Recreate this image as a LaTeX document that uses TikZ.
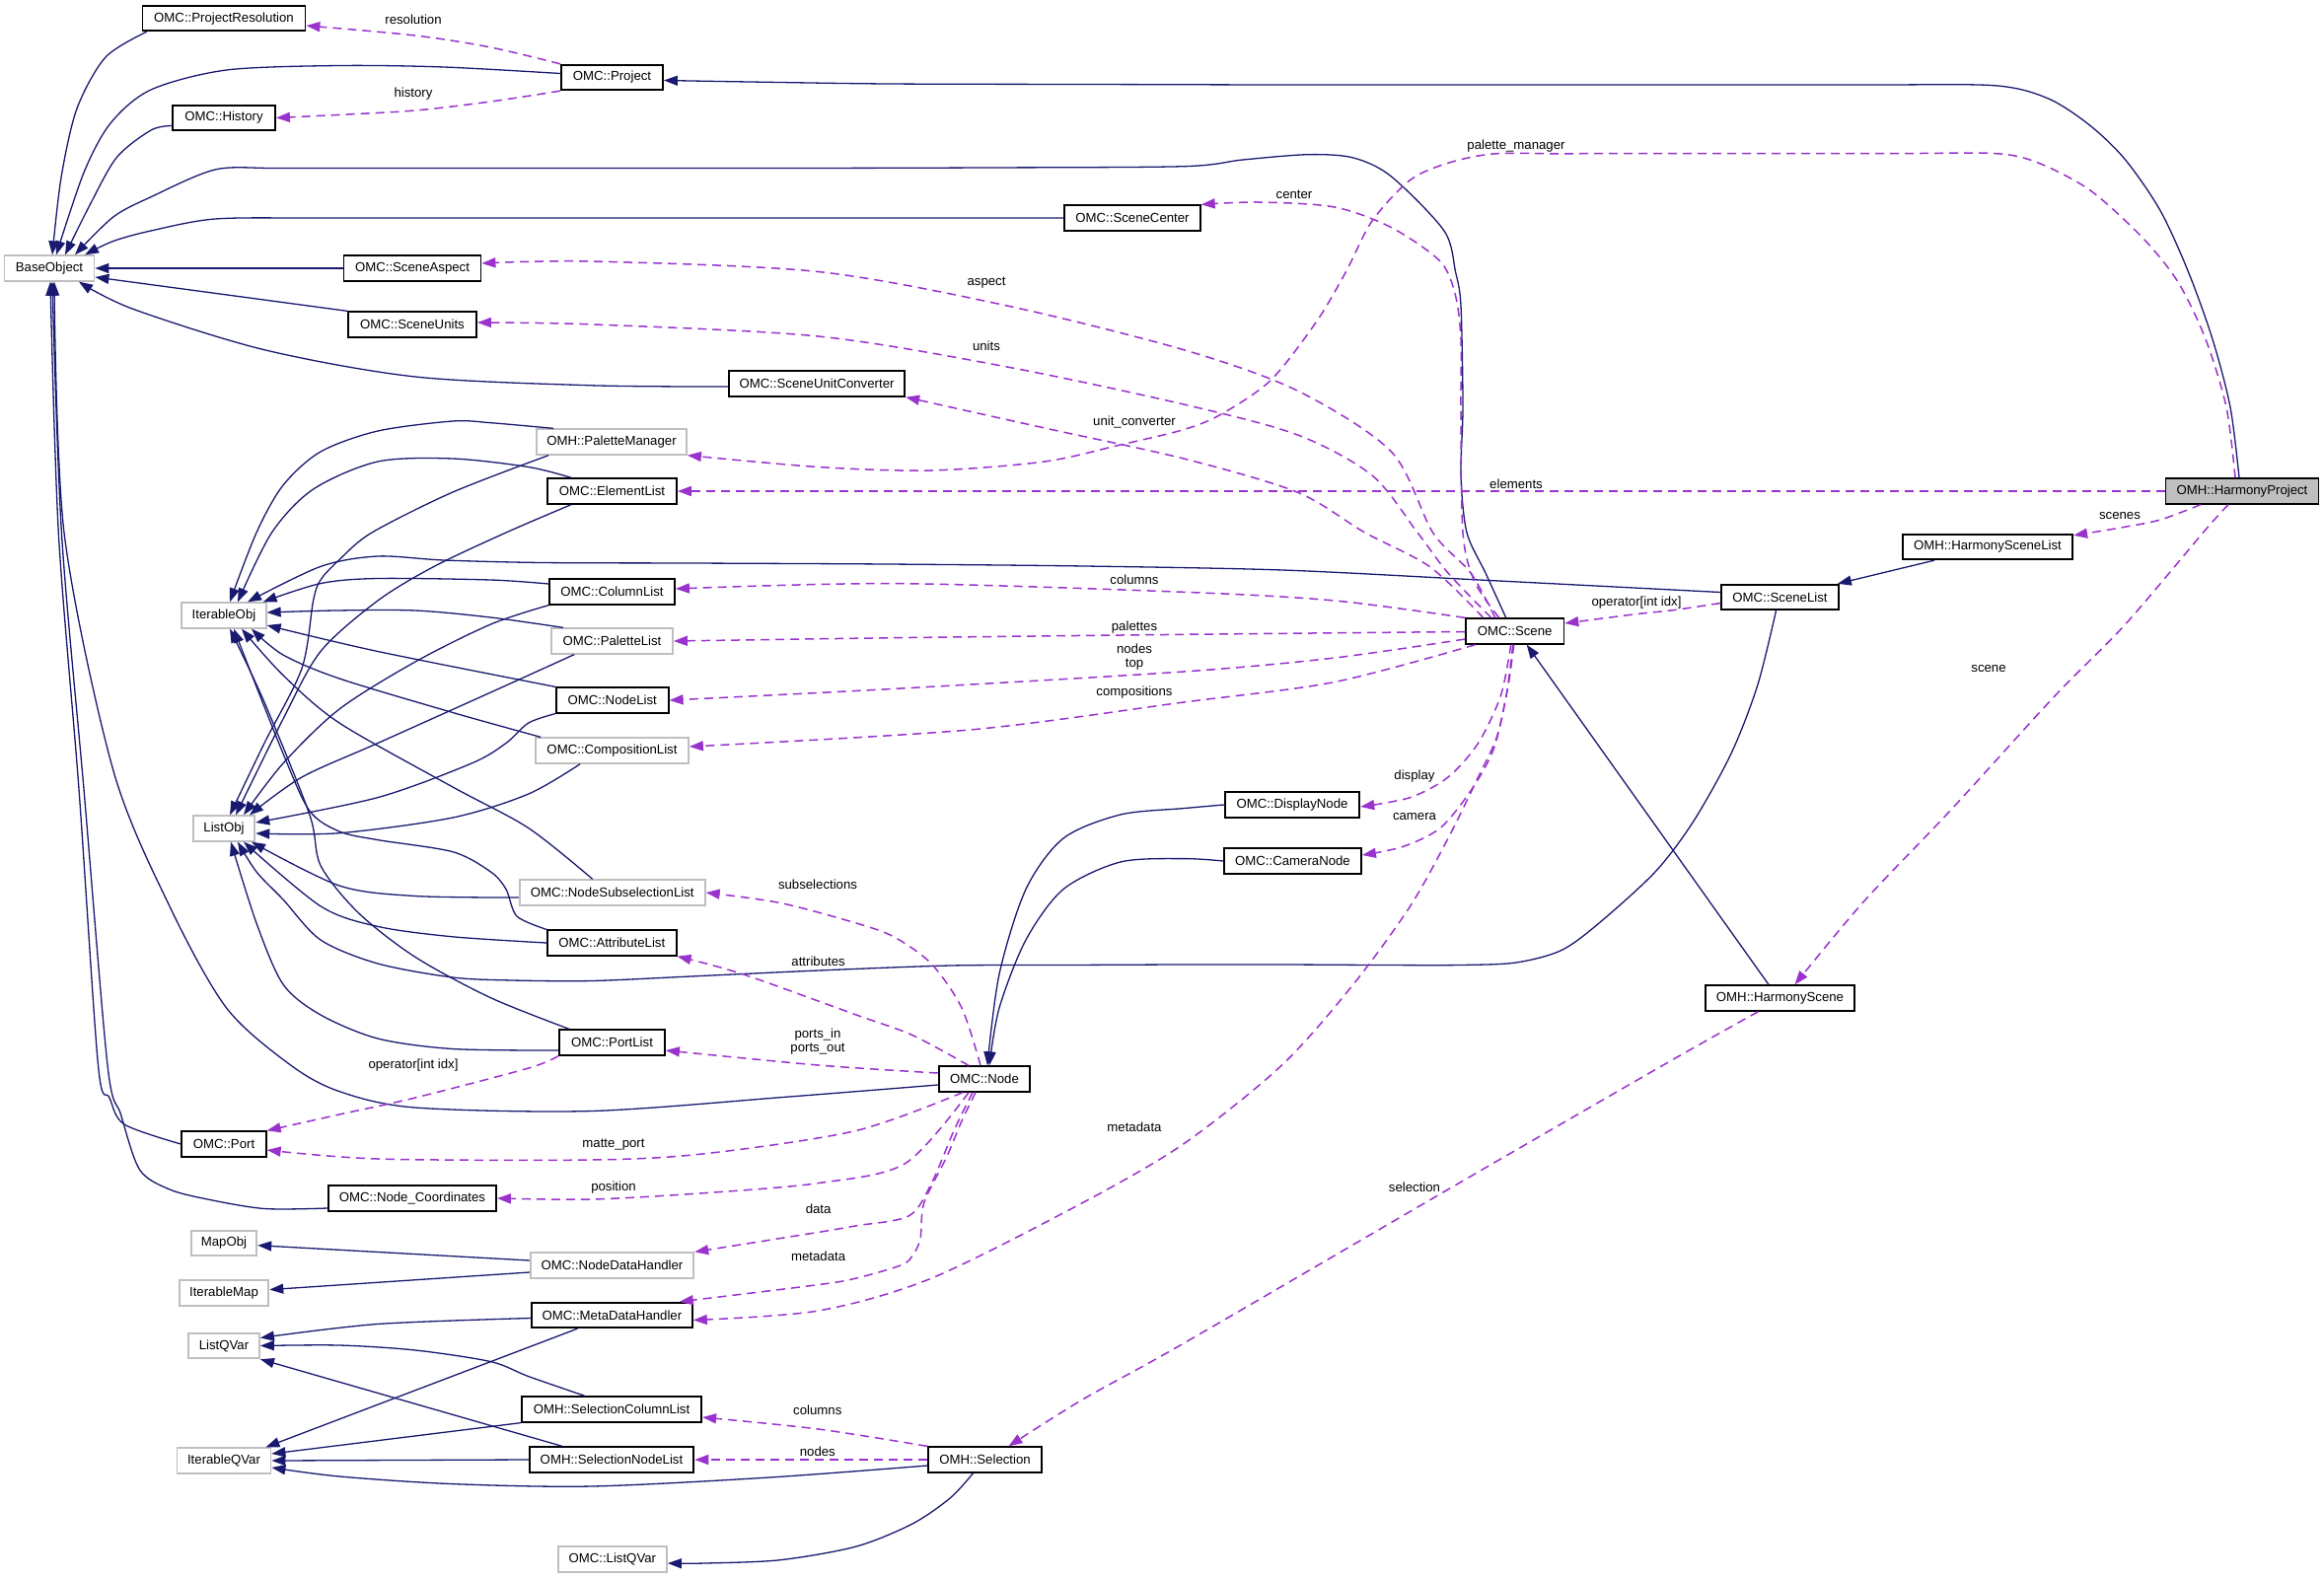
\documentclass[tikz,border=0pt]{standalone}
\usepackage{fontspec}
\setmainfont{Liberation Sans}
\usetikzlibrary{arrows.meta}
\definecolor{edgeblue}{HTML}{191970}
\definecolor{deppurple}{HTML}{9A32CD}
\definecolor{boxgray}{HTML}{BFBFBF}
\begin{document}
\begin{tikzpicture}[x=0.5pt,y=-0.5pt,
  font=\fontsize{6.6}{7.2}\selectfont,
  cls/.style={draw=black, line width=0.9pt, rectangle, inner sep=0pt, minimum height=12.75pt, fill=white},
  ext/.style={cls, draw=boxgray},
  inh/.style={draw=edgeblue, line width=0.65pt, -{Triangle[length=7pt,width=5pt]}},
  dep/.style={draw=deppurple, line width=0.75pt, dash pattern=on 4.5pt off 3pt, -{Triangle[length=7pt,width=5pt]}},
  lbl/.style={inner sep=0pt, align=center, font=\fontsize{6.6}{7}\selectfont}]
\useasboundingbox (0,0) rectangle (2356,1601);
\fill[white] (0,0) rectangle (2356,1601);

% ---------- nodes ----------
\node[cls, minimum width=82.5pt] (ProjRes) at (227,18.6) {OMC::ProjectResolution};
\node[cls, minimum width=51.5pt] (Project) at (620.5,78.5) {OMC::Project};
\node[cls, minimum width=52pt] (History) at (227,119.5) {OMC::History};
\node[ext, minimum width=45.5pt] (BaseObject) at (50,272) {BaseObject};
\node[cls, minimum width=69.5pt] (SceneAspect) at (418,272) {OMC::SceneAspect};
\node[cls, minimum width=65pt] (SceneUnits) at (418,329) {OMC::SceneUnits};
\node[cls, minimum width=68.75pt] (SceneCenter) at (1148,221) {OMC::SceneCenter};
\node[cls, minimum width=89.25pt] (SceneUnitConverter) at (828,389) {OMC::SceneUnitConverter};
\node[ext, minimum width=76pt] (PaletteManager) at (620,448) {OMH::PaletteManager};
\node[cls, minimum width=65.5pt] (ElementList) at (620.5,498) {OMC::ElementList};
\node[cls, minimum width=77.5pt, fill=boxgray] (HarmonyProject) at (2273,498) {OMH::HarmonyProject};
\node[ext, minimum width=42.75pt] (IterableObj) at (227,624) {IterableObj};
\node[ext, minimum width=31.35pt] (ListObj) at (227,840) {ListObj};
\node[cls, minimum width=63.5pt] (ColumnList) at (620.5,600) {OMC::ColumnList};
\node[ext, minimum width=61.5pt] (PaletteList) at (620.5,650) {OMC::PaletteList};
\node[cls, minimum width=57pt] (NodeList) at (620.7,710) {OMC::NodeList};
\node[ext, minimum width=77.5pt] (CompositionList) at (620.5,761) {OMC::CompositionList};
\node[ext, minimum width=94pt] (NodeSubselectionList) at (620.7,905) {OMC::NodeSubselectionList};
\node[cls, minimum width=65.35pt] (AttributeList) at (620.3,956) {OMC::AttributeList};
\node[cls, minimum width=53.5pt] (PortList) at (620.5,1057) {OMC::PortList};
\node[cls, minimum width=49.7pt] (Scene) at (1535.7,640) {OMC::Scene};
\node[cls, minimum width=59.5pt] (SceneList) at (1804.5,605.5) {OMC::SceneList};
\node[cls, minimum width=86.2pt] (HarmonySceneList) at (2015,554.5) {OMH::HarmonySceneList};
\node[cls, minimum width=75.5pt] (HarmonyScene) at (1804.5,1012) {OMH::HarmonyScene};
\node[cls, minimum width=68.35pt] (DisplayNode) at (1310,816) {OMC::DisplayNode};
\node[cls, minimum width=69.5pt] (CameraNode) at (1310.5,873) {OMC::CameraNode};
\node[cls, minimum width=46.35pt] (Node) at (998,1094) {OMC::Node};
\node[cls, minimum width=42.75pt] (Port) at (227,1160) {OMC::Port};
\node[cls, minimum width=85pt] (NodeCoordinates) at (418,1215) {OMC::Node\_Coordinates};
\node[ext, minimum width=33.3pt] (MapObj) at (227,1260.5) {MapObj};
\node[ext, minimum width=45.35pt] (IterableMap) at (227,1311) {IterableMap};
\node[ext, minimum width=36pt] (ListQVar) at (227,1364.5) {ListQVar};
\node[ext, minimum width=47.5pt] (IterableQVar) at (227,1481) {IterableQVar};
\node[ext, minimum width=82.8pt] (NodeDataHandler) at (620.5,1283) {OMC::NodeDataHandler};
\node[cls, minimum width=81.5pt] (MetaDataHandler) at (620.4,1333.5) {OMC::MetaDataHandler};
\node[cls, minimum width=91.2pt] (SelectionColumnList) at (620,1429) {OMH::SelectionColumnList};
\node[cls, minimum width=83.35pt] (SelectionNodeList) at (620,1480) {OMH::SelectionNodeList};
\node[ext, minimum width=55.2pt] (OMCListQVar) at (620.8,1581) {OMC::ListQVar};
\node[cls, minimum width=57.5pt] (Selection) at (998.5,1480) {OMH::Selection};

% ---------- inheritance edges ----------
% to BaseObject
\draw[inh] plot[smooth] coordinates {([xshift=2.5pt]ProjRes.south west) (107,58) (78,110) (62,180) ([xshift=1.5pt]BaseObject.north)};
\draw[inh] plot[smooth] coordinates {([yshift=2pt]Project.west) (450,68) (344,66.5) (229.6,71) (153,91) (112,125) (85,175) ([xshift=3.5pt]BaseObject.north)};
\draw[inh] plot[smooth] coordinates {([yshift=-4pt]History.west) (153,132) (118,160) (90,210) ([xshift=8pt]BaseObject.north)};
\draw[inh] plot[smooth] coordinates {([xshift=-4.5pt]Scene.north) (1506,581) (1487,540) (1481,482) (1483,413) (1481,310) (1475.5,275.5) (1464,234) (1410.5,179) (1372,160) (1326,156.7) (1260,162) (1200,168.7) (1000,170) (800,170.5) (600,170.5) (400,170.5) (280,170.5) (218,172) (153,199.7) (114.8,220) ([xshift=13pt]BaseObject.north)};
\draw[inh] plot[smooth] coordinates {(SceneCenter.west) (900,221) (700,221) (500,221) (320,221) (218,222) (153,234) (114.8,244.5) ([xshift=18pt]BaseObject.north)};
\draw[inh] (SceneAspect.west) -- (BaseObject.east);
\draw[inh] (SceneUnits.north west) -- ([yshift=-4.5pt]BaseObject.east);
\draw[inh] plot[smooth] coordinates {([yshift=-1.5pt]SceneUnitConverter.west) (600,390.8) (421,382) (268,354.7) (134,313) ([xshift=15pt]BaseObject.south)};
\draw[inh] plot[smooth] coordinates {(Port.west) (126,1140) (111,1113) (99.5,1080) (80,800) (59.3,540) ([xshift=0.5pt]BaseObject.south)};
\draw[inh] plot[smooth] coordinates {([yshift=-5pt]NodeCoordinates.west) (268,1225.5) (210.5,1216) (172,1206) (141.6,1186) (122.5,1130) (109,1080) (85,800) (62.4,540) ([xshift=1.5pt]BaseObject.south)};
\draw[inh] plot[smooth] coordinates {([yshift=-3pt]Node.west) (800,1112) (600,1126.5) (421,1123) (344,1106.6) (294.7,1080) (229.6,1022) (172,919) (114.8,781) (65,540) ([xshift=2.5pt]BaseObject.south)};

% to IterableObj
\draw[inh] plot[smooth] coordinates {([xshift=9pt]PaletteManager.north west) (497.5,428.7) (459,427) (383,437) (325,458) (287,492) (260,540) ([xshift=3pt]IterableObj.north)};
\draw[inh] plot[smooth] coordinates {([xshift=12.5pt]ElementList.north west) (535.8,473.5) (459,465) (383,468) (317.6,496) (275.5,540) ([xshift=7pt]IterableObj.north)};
\draw[inh] plot[smooth] coordinates {([yshift=2.5pt]SceneList.west) (1500,588) (1300,578) (1100,574) (900,572) (700,571) (550,570.5) (450,568) (383,564) (325,574.4) ([xshift=12pt]IterableObj.north)};
\draw[inh] plot[smooth] coordinates {([yshift=4pt]ColumnList.west) (497.5,588) (383,586.5) (325,591.6) ([xshift=-2pt]IterableObj.north east)};
\draw[inh] plot[smooth] coordinates {([xshift=6.5pt]PaletteList.north west) (497.5,626) (421,619) (340,619) ([yshift=1.5pt]IterableObj.east)};
\draw[inh] plot[smooth] coordinates {(NodeList.north west) (383,660.5) ([yshift=-5pt]IterableObj.east)};
\draw[inh] plot[smooth] coordinates {([xshift=3pt]CompositionList.north west) (459,722.5) (344,688) (287,664) ([xshift=14pt]IterableObj.south)};
\draw[inh] plot[smooth] coordinates {([xshift=-10pt]NodeSubselectionList.north) (535.8,839.6) (459,798) (344,733) (287,684.6) ([xshift=9pt]IterableObj.south)};
\draw[inh] plot[smooth] coordinates {(AttributeList.north west) (524,929) (513,901.6) (497.5,884) (459,863.7) (383,851.6) (344,843) (313.8,822) (287,764) ([xshift=5pt]IterableObj.south)};
\draw[inh] plot[smooth] coordinates {([xshift=5.5pt]PortList.north west) (497.5,1011.7) (421,970.4) (363.5,925.7) (325,877.5) (313.8,825.8) (268,712) ([xshift=3pt]IterableObj.south)};

% to ListObj
\draw[inh] plot[smooth] coordinates {([xshift=6.5pt]PaletteManager.south west) (459,499) (377,540) (344,567.5) (325,588) (317.6,609) (306,677.7) (268,753.5) ([xshift=3pt]ListObj.north)};
\draw[inh] plot[smooth] coordinates {([xshift=12.5pt]ElementList.south west) (513,540) (440,574.4) (383,609) (325,660.5) (287,729) ([xshift=6pt]ListObj.north)};
\draw[inh] plot[smooth] coordinates {(ColumnList.south west) (497.5,633) (421,671) (344,719) (287,774) ([xshift=10pt]ListObj.north)};
\draw[inh] plot[smooth] coordinates {([xshift=12pt]PaletteList.south west) (497.5,702) (383,753.5) (306,788) ([xshift=13pt]ListObj.north)};
\draw[inh] plot[smooth] coordinates {(NodeList.south west) (535.8,733) (513,753.5) (478,774) (383,808.6) ([yshift=3pt]ListObj.east)};
\draw[inh] plot[smooth] coordinates {([xshift=23pt]CompositionList.south west) (535.8,805) (459,829) (344,844.7) ([yshift=-2.5pt]ListObj.east)};
\draw[inh] plot[smooth] coordinates {([yshift=-2.5pt]NodeSubselectionList.west) (421,908.5) (344,898) ([xshift=14pt]ListObj.south)};
\draw[inh] plot[smooth] coordinates {(AttributeList.west) (459,949.8) (383,939.4) (325,918.8) ([xshift=10pt]ListObj.south)};
\draw[inh] plot[smooth] coordinates {([xshift=-2pt]SceneList.south) (1781.7,695) (1755,764) (1716.6,833) (1678,884) (1621,936) (1582.7,963.6) (1536.7,976) (1480,978.5) (1400,978.5) (1300,978) (1200,978) (1080,978.5) (963.5,979) (829.6,984) (700,990) (600,994.5) (520,994) (459,991) (383,977) (325,953) (287,912) (260,884) ([xshift=7pt]ListObj.south)};
\draw[inh] plot[smooth] coordinates {([yshift=-4pt]PortList.west) (459,1063.5) (383,1053) (325,1029) (287,998) (260,936) ([xshift=3.5pt]ListObj.south)};

% other inheritance
\draw[inh] plot[smooth] coordinates {([xshift=-1.5pt]HarmonyProject.north) (2261,413) (2243,344) (2218.4,275.5) (2190,213.5) (2154.6,162) (2119,127.4) (2076.6,100) (2023,86.8) (1900,86) (1700,86) (1500,86) (1300,86) (1100,85.5) (900,85) (760,83) ([yshift=-1.5pt]Project.east)};
\draw[inh] ([xshift=-27pt]HarmonySceneList.south) -- ([xshift=-1pt]SceneList.north east);
\draw[inh] ([xshift=-5.75pt]HarmonyScene.north) -- ([xshift=6pt]Scene.south);
\draw[inh] plot[smooth] coordinates {(DisplayNode.west) (1200,819.6) (1135.8,826) (1078,850) (1040,901.6) (1013,987.7) ([xshift=1.5pt]Node.north)};
\draw[inh] plot[smooth] coordinates {(CameraNode.west) (1200,870.6) (1135.8,874) (1078,901.6) (1040,953) (1013,1022) ([xshift=2.5pt]Node.north)};
\draw[inh] ([yshift=2.5pt]NodeDataHandler.west) -- ([yshift=-1.1pt]MapObj.east);
\draw[inh] ([yshift=-3.5pt]NodeDataHandler.west) -- ([yshift=1.7pt]IterableMap.east);
\draw[inh] plot[smooth] coordinates {([yshift=-1.5pt]MetaDataHandler.west) (382.7,1342.5) ([yshift=4pt]ListQVar.east)};
\draw[inh] ([xshift=-17.5pt]MetaDataHandler.south) -- ([xshift=-3pt]IterableQVar.north east);
\draw[inh] plot[smooth] coordinates {([xshift=-13.5pt]SelectionColumnList.north) (535.8,1395.6) (497.5,1380.6) (421,1369) (344,1364) (ListQVar.east)};
\draw[inh] (SelectionColumnList.south west) -- ([yshift=3.5pt]IterableQVar.east);
\draw[inh] ([xshift=-25pt]SelectionNodeList.north) -- (ListQVar.south east);
\draw[inh] (SelectionNodeList.west) -- (IterableQVar.east);
\draw[inh] plot[smooth] coordinates {([yshift=-3pt]Selection.west) (780,1498) (600,1507) (459,1504.6) (344,1497) ([yshift=-3.5pt]IterableQVar.east)};
\draw[inh] plot[smooth] coordinates {([xshift=-6pt]Selection.south) (963.6,1518.6) (925,1545) (868,1568) (791,1581.7) (714.8,1585) ([yshift=-2pt]OMCListQVar.east)};

% ---------- usage edges ----------
\draw[dep] plot[smooth] coordinates {(Project.north west) (497.5,48) (421,36) ([yshift=-3.7pt]ProjRes.east)};
\draw[dep] plot[smooth] coordinates {(Project.south west) (497.5,103) (421,112) (344,116.4) (History.east)};
\draw[dep] plot[smooth] coordinates {([xshift=-3.5pt]HarmonyProject.north) (2257,413) (2236,344) (2208,286) (2172,241) (2119,193) (2066,165) (2023,155.6) (1930,155.6) (1800,155.6) (1680,155.6) (1580,155.8) (1513.8,156) (1468,165.3) (1429.6,182.5) (1391,224) (1364.5,275.5) (1334,327) (1288,385.7) (1238,420) (1200,435.6) (1135.8,451) (1059,468) (944,477) (829.6,473.5) (PaletteManager.south east)};
\draw[dep] (HarmonyProject.west) -- (ElementList.east);
\draw[dep] plot[smooth] coordinates {([xshift=-21pt]HarmonyProject.south) (2190,527) (2150,535) ([yshift=-1pt]HarmonySceneList.north east)};
\draw[dep] plot[smooth] coordinates {([xshift=-7pt]HarmonyProject.south) (2236,537) (2154.6,633) (2083.7,705) (1977,822) (1888.6,915) ([xshift=7.5pt]HarmonyScene.north)};
\draw[dep] plot[smooth] coordinates {([yshift=-3pt]SceneList.west) (1697.5,618.5) (1659,622.6) ([yshift=4pt]Scene.east)};
\draw[dep] plot[smooth] coordinates {([xshift=-8pt]Scene.north) (1495,590) (1483,540) (1481,413) (1481,344) (1475.5,299.6) (1460,265) (1410.5,230.7) (1353,210) (1276.5,205) (SceneCenter.north east)};
\draw[dep] plot[smooth] coordinates {([xshift=-10pt]Scene.north) (1491,581) (1452.6,540) (1410.5,458) (1315,396) (1200,354.7) (1021,310) (829.6,275.5) (600,265) ([yshift=2.5pt]SceneAspect.east)};
\draw[dep] plot[smooth] coordinates {([xshift=-12pt]Scene.north) (1468,581) (1437,540) (1391,482) (1315,440.8) (1200,410) (1021,372) (829.6,341) (600,328.9) ([yshift=1pt]SceneUnits.east)};
\draw[dep] plot[smooth] coordinates {([xshift=-16pt]Scene.north) (1450,575) (1383.7,540) (1315,499) (1200,465) (1059,434) (SceneUnitConverter.south east)};
\draw[dep] plot[smooth] coordinates {(Scene.north west) (1353,609) (1200,600.3) (906,591.6) ([yshift=1.5pt]ColumnList.east)};
\draw[dep] plot[smooth] coordinates {([yshift=-0.25pt]Scene.west) (1200,643.3) (906,646.7) (PaletteList.east)};
\draw[dep] plot[smooth] coordinates {([yshift=-4pt]Scene.west) (1353,667) (1200,681) (906,698.4) (NodeList.east)};
\draw[dep] plot[smooth] coordinates {([xshift=-20pt]Scene.south) (1353,691.5) (1200,712) (983,740) ([yshift=2pt]CompositionList.east)};
\draw[dep] plot[smooth] coordinates {([xshift=-2pt]Scene.south) (1521.5,705) (1498.5,753.5) (1468,788) (1429.6,808.6) ([yshift=-1pt]DisplayNode.east)};
\draw[dep] plot[smooth] coordinates {([xshift=-1pt]Scene.south) (1527,705) (1514,760) (1491,801.7) (1460,839.6) (1422,858.5) ([yshift=3pt]CameraNode.east)};
\draw[dep] plot[smooth] coordinates {([xshift=-0.5pt]Scene.south) (1529,695) (1517.6,746.6) (1498.5,788) (1468,850) (1429.6,918.8) (1372,998) (1299.5,1080) (1200,1159.7) (1097.5,1219.5) (944.4,1296) (829.6,1329) ([yshift=-2.5pt]MetaDataHandler.east)};
\draw[dep] plot[smooth] coordinates {([xshift=-11pt]HarmonyScene.south) (1686,1080) (1468,1206) (1200,1362) (1097.5,1419) ([xshift=12pt]Selection.north)};
\draw[dep] plot[smooth] coordinates {([xshift=-2pt]Node.north) (975,1022) (944,977) (906,949.8) (868,936) (791,915.5) (NodeSubselectionList.east)};
\draw[dep] plot[smooth] coordinates {([xshift=-8pt]Node.north) (925,1049.6) (868,1029) (753,987.7) (AttributeList.south east)};
\draw[dep] plot[smooth] coordinates {([yshift=3pt]Node.west) (829.6,1080) ([yshift=-4pt]PortList.east)};
\draw[dep] plot[smooth] coordinates {(PortList.south west) (535.8,1083) (421,1113) (344,1130) (Port.north east)};
\draw[dep] plot[smooth] coordinates {([xshift=-11pt]Node.south) (868,1146.4) (714.8,1169.7) (600,1176) (383,1175) ([yshift=-3pt]Port.east)};
\draw[dep] plot[smooth] coordinates {([xshift=-8pt]Node.south) (917.6,1179.7) (829.6,1199.6) (714.8,1209.6) (600,1216) (NodeCoordinates.east)};
\draw[dep] plot[smooth] coordinates {([xshift=-6pt]Node.south) (967,1146.4) (944.4,1199.6) (921.5,1232.8) (868,1242.8) (829.6,1249.4) (NodeDataHandler.north east)};
\draw[dep] plot[smooth] coordinates {([xshift=-4.5pt]Node.south) (975,1136.5) (959.7,1173) (936.8,1219.5) (933,1256) (925.3,1272.7) (913.8,1282.7) (868,1296) (829.6,1302.6) ([xshift=-7pt]MetaDataHandler.north east)};
\draw[dep] plot[smooth] coordinates {(Selection.north west) (829.6,1449) ([yshift=-4pt]SelectionColumnList.east)};
\draw[dep] (Selection.west) -- (SelectionNodeList.east);

% ---------- labels ----------
\node[lbl] (lresolution) at (419,19.6) {resolution};
\node[lbl] (lhistory) at (419,94.7) {history};
\node[lbl] (lpalman) at (1537,148) {palette\_manager};
\node[lbl] (lcenter) at (1312,197) {center};
\node[lbl] (laspect) at (1000,286.5) {aspect};
\node[lbl] (lunits) at (1000,350.6) {units};
\node[lbl] (lunitconv) at (1150,427.7) {unit\_converter};
\node[lbl] (lelements) at (1537,490.7) {elements};
\node[lbl] (lscenes) at (2149,523.4) {scenes};
\node[lbl] (lcolumns) at (1150,587.5) {columns};
\node[lbl] (lopscene) at (1659,610.6) {operator[int idx]};
\node[lbl] (lpalettes) at (1150,635.7) {palettes};
\node[lbl] (lnodestop) at (1150,665.7) {nodes\\top};
\node[lbl] (lcompositions) at (1150,702.5) {compositions};
\node[lbl] (lscene) at (2016,678.4) {scene};
\node[lbl] (ldisplay) at (1434,787) {display};
\node[lbl] (lcamera) at (1434,828) {camera};
\node[lbl] (lsubsel) at (829,896.4) {subselections};
\node[lbl] (lattributes) at (829.6,974.6) {attributes};
\node[lbl] (lports) at (829,1056) {ports\_in\\ports\_out};
\node[lbl] (lopport) at (419,1080.5) {operator[int idx]};
\node[lbl] (lmetadata1) at (1150,1142.5) {metadata};
\node[lbl] (lmatte) at (622,1161) {matte\_port};
\node[lbl] (lposition) at (622,1203.6) {position};
\node[lbl] (lselection) at (1434,1204) {selection};
\node[lbl] (ldata) at (829.6,1226) {data};
\node[lbl] (lmetadata2) at (829.6,1273.7) {metadata};
\node[lbl] (lselcolumns) at (828.8,1430) {columns};
\node[lbl] (lselnodes) at (828.8,1471.4) {nodes};
\end{tikzpicture}
\end{document}
